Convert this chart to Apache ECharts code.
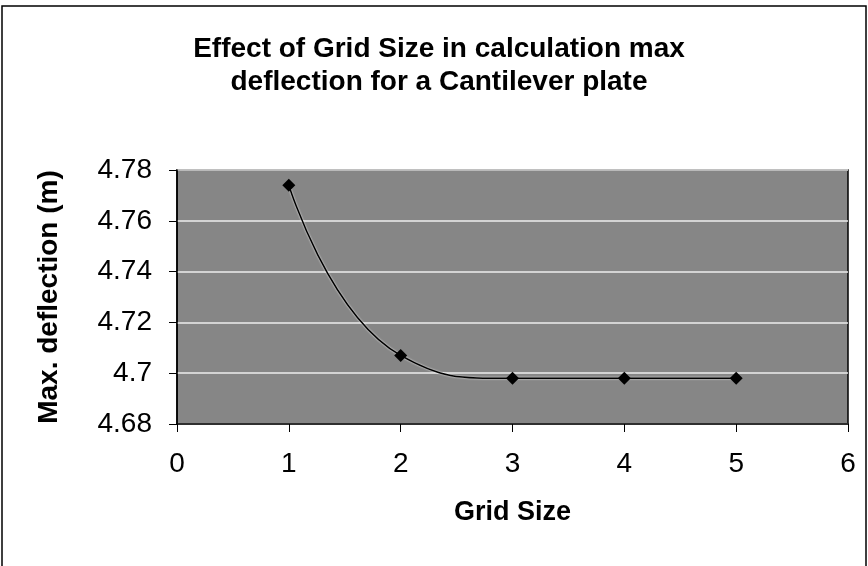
<!DOCTYPE html>
<html><head><meta charset="utf-8">
<script src="https://cdn.jsdelivr.net/npm/echarts@6/dist/echarts.min.js"></script>
<style>html,body{margin:0;padding:0;background:#fff}#c{width:868px;height:566px}</style>
</head><body><div id="c"></div>
<script>
const gridSizes = [1, 2, 3, 4, 5];
const maxDeflection = [4.774, 4.707, 4.698, 4.698, 4.698];
const xTicks = [0, 1, 2, 3, 4, 5, 6];
const yTicks = [4.68, 4.70, 4.72, 4.74, 4.76, 4.78];

const chart = echarts.init(document.getElementById('c'));
chart.setOption({
  animation: false,
  backgroundColor: '#fff',
  graphic: [{
    type: 'rect', shape: {x: 2, y: 6, width: 864, height: 570},
    style: {fill: 'none', stroke: '#000', lineWidth: 1.5}, silent: true
  }],
  title: {
    text: 'Effect of Grid Size in calculation max\ndeflection for a Cantilever plate',
    left: 434, top: 28, textAlign: 'center',
    textStyle: {fontFamily: 'Liberation Sans', fontWeight: 'bold', fontSize: 28, lineHeight: 33, color: '#000'}
  },
  grid: {left: 177, right: 20, top: 170, bottom: 142, show: true, backgroundColor: '#868686', borderColor: '#000', borderWidth: 1.5},
  xAxis: {
    type: 'value', min: xTicks[0], max: xTicks[xTicks.length - 1], interval: 1,
    name: 'Grid Size', nameLocation: 'middle', nameGap: 75,
    nameTextStyle: {fontFamily: 'Liberation Sans', fontWeight: 'bold', fontSize: 27, color: '#000'},
    axisLine: {lineStyle: {color: '#000', width: 1.5}},
    axisTick: {show: true, length: 8, lineStyle: {color: '#000'}},
    axisLabel: {fontFamily: 'Liberation Sans', fontSize: 28, color: '#000', margin: 26},
    splitLine: {show: false}
  },
  yAxis: {
    type: 'value', min: yTicks[0], max: yTicks[yTicks.length - 1], interval: 0.02,
    name: 'Max. deflection (m)', nameLocation: 'middle', nameGap: 114, nameRotate: 90,
    nameTextStyle: {fontFamily: 'Liberation Sans', fontWeight: 'bold', fontSize: 28, color: '#000'},
    axisLine: {show: true, lineStyle: {color: '#000', width: 1.5}},
    axisTick: {show: true, length: 8, lineStyle: {color: '#000'}},
    axisLabel: {fontFamily: 'Liberation Sans', fontSize: 28, color: '#000', margin: 25},
    splitLine: {show: true, lineStyle: {color: '#ececec', width: 1.5}}
  },
  series: [{
    type: 'line', smooth: 0.5,
    data: gridSizes.map((g, i) => [g, maxDeflection[i]]),
    symbol: 'diamond', symbolSize: 13,
    itemStyle: {color: '#000'},
    lineStyle: {color: '#000', width: 1.5, shadowColor: '#fff', shadowBlur: 2}
  }]
});
</script></body></html>
